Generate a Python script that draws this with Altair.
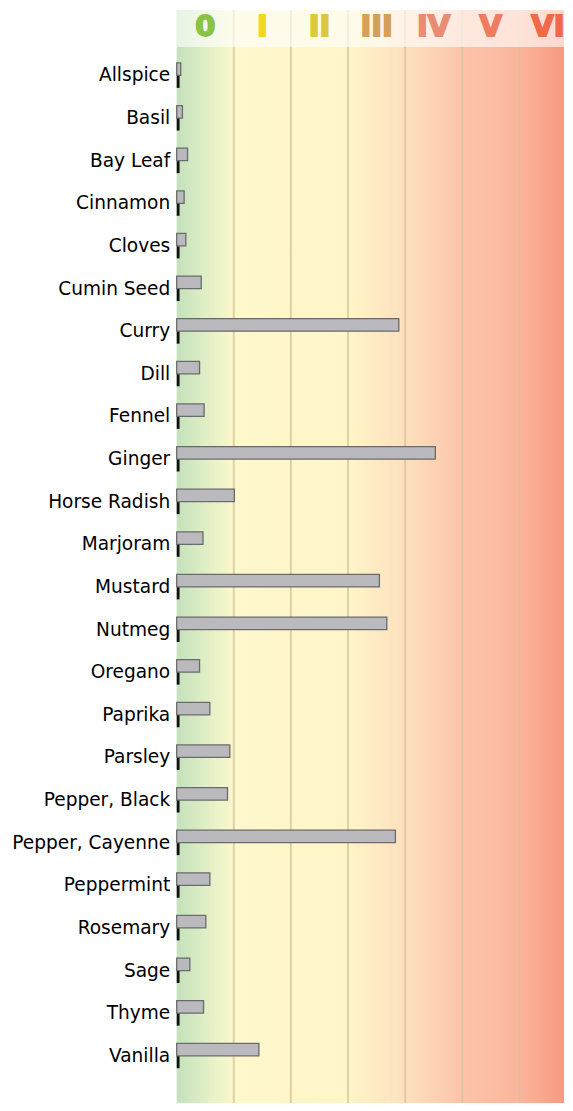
import altair as alt
import pandas as pd

spices = ["Allspice", "Basil", "Bay Leaf", "Cinnamon", "Cloves", "Cumin Seed", "Curry",
          "Dill", "Fennel", "Ginger", "Horse Radish", "Marjoram", "Mustard", "Nutmeg",
          "Oregano", "Paprika", "Parsley", "Pepper, Black", "Pepper, Cayenne", "Peppermint",
          "Rosemary", "Sage", "Thyme", "Vanilla"]
heat = [0.07, 0.10, 0.19, 0.13, 0.16, 0.43, 3.89, 0.40, 0.48, 4.53, 1.01, 0.46, 3.55, 3.68,
        0.40, 0.58, 0.93, 0.89, 3.83, 0.58, 0.51, 0.23, 0.47, 1.44]
marker = [0.05, 0.05, 0.05, 0.05, 0.05, 0.05, 0.05, 0.05, 0.05, 0.05, 0.05, 0.05, 0.05, 0.05,
          0.05, 0.05, 0.05, 0.05, 0.05, 0.05, 0.05, 0.05, 0.05, 0.05]

levels = ["0", "I", "II", "III", "IV", "V", "VI"]
level_pos = [0.5, 1.5, 2.5, 3.5, 4.5, 5.5, 6.5]
level_colors = ["#8cc346", "#f0d81e", "#dcc83c", "#d7a05a", "#e88c73", "#ee7d5f", "#f0694b"]
grid_pos = [1, 2, 3, 4, 5, 6]

W = 388
H = 1095
XMAX = W / 57.2

df = pd.DataFrame({"spice": spices, "heat": heat, "marker": marker})
lev_df = pd.DataFrame({"lev": levels, "pos": level_pos, "col": level_colors})
grid_df = pd.DataFrame({"g": grid_pos})

xscale = alt.Scale(domain=[0, XMAX], nice=False, zero=True)
yscale = alt.Scale(paddingInner=0, paddingOuter=0.822, align=0.63)

grad = alt.Gradient(
    gradient="linear", x1=0, x2=1, y1=0, y2=0,
    stops=[
        alt.GradientStop(color="#c3e2bc", offset=0.0),
        alt.GradientStop(color="#e6f1c7", offset=0.09),
        alt.GradientStop(color="#fef8cc", offset=0.15),
        alt.GradientStop(color="#fff5c8", offset=0.44),
        alt.GradientStop(color="#fde0bf", offset=0.59),
        alt.GradientStop(color="#fcc4aa", offset=0.74),
        alt.GradientStop(color="#fbb69d", offset=0.88),
        alt.GradientStop(color="#f79a80", offset=1.0),
    ],
)

one = alt.Data(values=[{"a": 1}])

bg = alt.Chart(one).mark_rect(fill=grad).encode(
    x=alt.value(0), x2=alt.value(W), y=alt.value(0), y2=alt.value(H)
)

rules = alt.Chart(grid_df).mark_rule(color="#d6c49a", strokeWidth=2, opacity=0.75).encode(
    x=alt.X("g:Q", scale=xscale, axis=None), y=alt.value(0), y2=alt.value(H)
)

header = alt.Chart(one).mark_rect(fill="white", opacity=0.62).encode(
    x=alt.value(0), x2=alt.value(W), y=alt.value(0), y2=alt.value(37)
)

labels = alt.Chart(lev_df).mark_text(
    font="DejaVu Sans", fontWeight="bold", fontSize=29, baseline="middle", align="center",
    strokeWidth=1.8
).encode(
    x=alt.X("pos:Q", scale=xscale, axis=None),
    y=alt.value(17),
    text="lev:N",
    color=alt.Color("col:N", scale=None),
    stroke=alt.Stroke("col:N", scale=None),
)

yaxis = alt.Axis(title=None, domain=False, ticks=False, tickSize=0, grid=False,
                 labelPadding=7, labelFont="DejaVu Sans", labelFontSize=18.6,
                 labelColor="black", labelLimit=400, minExtent=169, maxExtent=169)

bars = alt.Chart(df).mark_bar(
    height=12.5, yOffset=-6.25, fill="#b9b9be", stroke="#6b6b6b", strokeWidth=1.3
).encode(
    x=alt.X("heat:Q", scale=xscale, axis=None),
    y=alt.Y("spice:N", sort=spices, scale=yscale, axis=yaxis),
)

black = alt.Chart(df).mark_bar(height=12, yOffset=6.5, color="#111111").encode(
    x=alt.X("marker:Q", scale=xscale, axis=None),
    y=alt.Y("spice:N", sort=spices, scale=yscale, axis=yaxis),
)

chart = alt.layer(bg, rules, header, labels, bars, black).properties(
    width=W, height=H, padding=0, background="white"
).configure_view(stroke=None)

chart.save("out.html", embed_options={"renderer": "svg", "actions": False})
